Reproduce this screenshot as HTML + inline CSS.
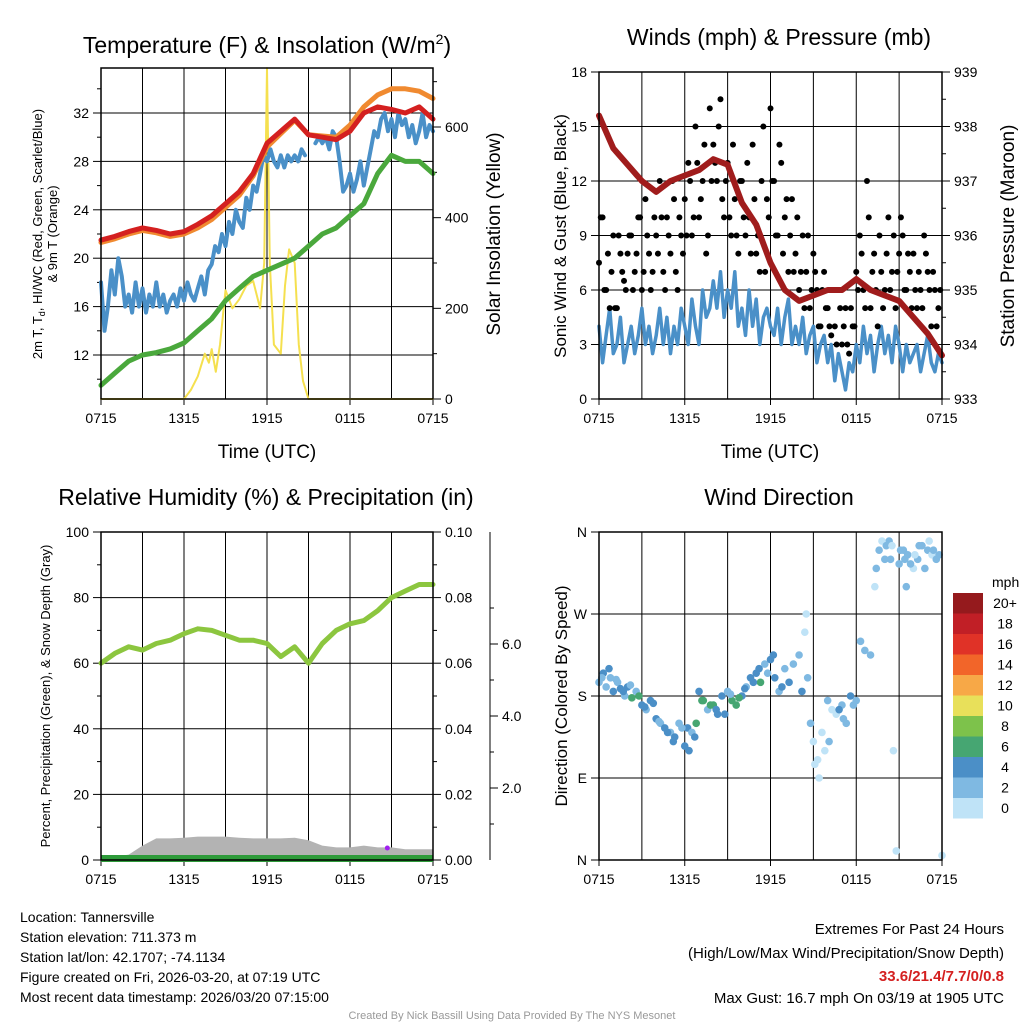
<!DOCTYPE html>
<html><head><meta charset="utf-8">
<style>
html,body{margin:0;padding:0;background:#fff;}
svg{display:block;font-family:"Liberation Sans",sans-serif;}
</style></head>
<body>
<svg id="s" width="1024" height="1024" viewBox="0 0 1024 1024" xmlns="http://www.w3.org/2000/svg">
<rect width="1024" height="1024" fill="#fff"/>
<text x="267" y="53" font-size="23" text-anchor="middle">Temperature (F) &amp; Insolation (W/m<tspan dy="-9" font-size="14">2</tspan><tspan dy="9">)</tspan></text>
<text x="779" y="45" font-size="23" text-anchor="middle">Winds (mph) &amp; Pressure (mb)</text>
<text x="266" y="505" font-size="23" text-anchor="middle">Relative Humidity (%) &amp; Precipitation (in)</text>
<text x="779" y="505" font-size="23" text-anchor="middle">Wind Direction</text>

<text transform="translate(42,234) rotate(-90)" font-size="13" text-anchor="middle">2m T, T<tspan dy="3" font-size="9">d</tspan><tspan dy="-3">, HI/WC (Red, Green, Scarlet/Blue)</tspan></text>
<text transform="translate(57,234) rotate(-90)" font-size="13" text-anchor="middle">&amp; 9m T (Orange)</text>
<text transform="translate(500,234) rotate(-90)" font-size="19" text-anchor="middle">Solar Insolation (Yellow)</text>
<text transform="translate(566,236) rotate(-90)" font-size="17" text-anchor="middle">Sonic Wind &amp; Gust (Blue, Black)</text>
<text transform="translate(1014,236) rotate(-90)" font-size="19" text-anchor="middle">Station Pressure (Maroon)</text>
<text transform="translate(50,696) rotate(-90)" font-size="13" text-anchor="middle">Percent, Precipitation (Green), &amp; Snow Depth (Gray)</text>
<text transform="translate(567,696) rotate(-90)" font-size="17" text-anchor="middle">Direction (Colored By Speed)</text>
<text x="267" y="458" font-size="19" text-anchor="middle">Time (UTC)</text>
<text x="770" y="458" font-size="19" text-anchor="middle">Time (UTC)</text>

<g font-size="14">
<text x="20" y="922">Location: Tannersville</text>
<text x="20" y="942">Station elevation: 711.373 m</text>
<text x="20" y="962">Station lat/lon: 42.1707; -74.1134</text>
<text x="20" y="982">Figure created on Fri, 2026-03-20, at 07:19 UTC</text>
<text x="20" y="1002">Most recent data timestamp: 2026/03/20 07:15:00</text>
</g>
<g font-size="15" text-anchor="end">
<text x="1004" y="934">Extremes For Past 24 Hours</text>
<text x="1004" y="958">(High/Low/Max Wind/Precipitation/Snow Depth)</text>
<text x="1004" y="981" fill="#d42020" font-weight="bold">33.6/21.4/7.7/0/0.8</text>
<text x="1004" y="1003">Max Gust: 16.7 mph On 03/19 at 1905 UTC</text>
</g>
<text x="512" y="1019" font-size="11" fill="#999" text-anchor="middle">Created By Nick Bassill Using Data Provided By The NYS Mesonet</text>
<g id="g"></g>
</svg>
<script>
// ---- data (t = hours since 0715 UTC) ----
const xTickLabels = ["0715","1315","1915","0115","0715"];
const temp2m = [21.5,21.8,22.2,22.5,22.3,22,22.2,22.8,23.5,24.5,25.5,27,29.5,30.5,31.5,30.2,30,29.8,30.5,32,32.5,32.3,32,32.5,31.5]; // hourly
const temp9m = [21.3,21.6,22,22.3,22.1,21.8,22,22.5,23.2,24.2,25.2,26.8,29.2,30.3,31.4,30.2,30.1,30,31,32.5,33.5,34,34,33.8,33.2]; // hourly
const dewpt = [9.5,10.5,11.5,12,12.2,12.5,13,14,15,16.5,17.5,18.5,19,19.5,20,21,22,22.5,23.5,24.5,27,28.5,28,28,27]; // hourly
const heatIdx = [18,14,16,19,17,20,18.5,16, 17,15.5,18,16,17.5,15.5,17,16, 18,16,17,15.5,16.5,17,16,17.5, 16.5,18,17,16.5,17.5,18.5,17,19, 19.5,21,20.5,22,21,23,22,24, 23,22.5,25,24,26,25.5,27,28.5, 28,29,28,27.5,28.5,27.5,28.5,28, 28.5,28,29,28.5,null,null,29.5,30, 29.5,30,29,30.5,30,28,25.5,26, 27,25.5,26.5,28,26,27.5,29,30.5, 30,31.5,32,30.5,31.5,30,32,31, 31.5,30,31,29.5,30.5,32,30,31,30.5]; // 15-min
const insolT = [0,6,6.5,7,7.5,7.8,8,8.3,8.6,9,9.5,10,10.5,11,11.5,11.8,12,12.2,12.5,13,13.3,13.6,14,14.3,14.6,15,24];
const insolV = [0,0,20,50,100,80,110,60,120,240,200,220,250,260,200,300,730,300,120,100,250,330,300,120,40,0,0];
const pressure = [938.2,937.6,937.3,937.0,936.8,937.0,937.1,937.2,937.4,937.3,936.6,936.2,935.5,935.0,934.8,934.9,935.0,935.0,935.2,935.0,934.9,934.8,934.5,934.2,933.8]; // hourly
const sonicWind = [4,2,3.5,5,2.5,3,4.5,2, 3,4,2.5,3.5,5,3,4,2.5, 3.5,5,3,4.5,2.5,4,3,5, 4,3,5.5,4,3,6,4.5,5, 6.5,5,7,4.5,6,5,7,4, 5,3.5,6,4,5.5,3,4.5,5, 4,3.5,5,3,4.5,5.5,3,4, 3,4.5,2.5,3.5,4,2,3,3.5, 2,3,1,2.5,1.5,0.5,2,1.5, 3,2,4,2.5,3.5,1.5,3,4, 2.5,3.5,2,4,3,1.5,3,2, 2.5,3,1.5,2.5,3.5,2,1.5,2.5,2]; // 15-min
const gusts = [7.5,10,6,5,9,5,8,6.5,8,9,7,10,6,11,8,7,9,12,7,10,8,11,6,9,11,13,9,15,10,12,8,16,14,12,16.5,10,13,9,11,8,12,9,10,14,8,7,15,11,16,12,9,13,10,7,11,8,6,9,7,5,8,6,4,7,5,3.5,4,6,3,5,2.5,4,7,9,6,12,5,8,4,7,6,10,7,5,8,9,6,7,8,5,6,9,7,4,6,5]; // 15-min
const gustsB = [10,6,8,7,5,9,7,6, 9,6,8,10,7,9,6,10, 8,10,6,9,12,7,10,8, 9,12,10,13,11,14,9,12, 13,15,11,12,10,14,9,12, 10,13,8,11,9,12,7,10, 12,9,14,8,11,9,7,10, 7,5,9,6,7,4,6,5, 4,6,3,5,4,3,5,4, 6,8,5,10,7,6,9,5, 8,6,9,7,10,6,8,5, 6,7,5,8,6,7,4,6]; // 15-min, offset 7.5 min
const rh = [60,63,65,64,66,67,69,70.5,70,68.5,67,67,66,62,65,60,66,70,72,73,76,80,82,84,84];
const snowDepth = [0.1,0.1,0.15,0.4,0.6,0.6,0.62,0.65,0.65,0.65,0.62,0.6,0.6,0.6,0.62,0.55,0.4,0.35,0.35,0.4,0.35,0.35,0.3,0.3,0.3];
const dirT = [0,0.3,0.5,0.8,1,1.3,1.5,1.8,2,2.3,2.6,3,3.3,3.6,4,4.3,4.6,5,5.3,5.6,6,6.2,6.5,6.8,7,7.3,7.6,8,8.3,8.6,9,9.3,9.6,10,10.3,10.6,11,11.3,11.6,12,12.3,12.6,13,13.3,13.6,14,14.2,14.5,14.8,15,15.3,15.6,16,16.3,16.6,17,17.3,17.6,18,18.3,18.6,19,19.3,19.6,20,20.3,20.6,21,21.3,21.6,22,22.3,22.6,23,23.3,23.6,24,
 0.2,0.7,1.2,1.7,2.2,2.8,3.2,3.8,4.2,4.8,5.2,5.8,6.3,6.7,7.2,7.8,8.2,8.8,9.2,9.8,10.2,10.8,11.2,11.8,12.2,12.8,14.4,14.6,15.1,15.4,15.8,16.1,16.8,17.1,17.8,19.4,19.8,20.1,20.4,20.8,21.1,21.4,21.8,22.1,22.4,22.8,23.1,23.4,23.8,20.5,21.5];
const dirDeg = [195,205,190,200,185,195,188,180,190,178,185,170,165,175,155,150,145,140,135,150,125,145,140,150,185,175,165,170,160,180,185,175,170,180,190,200,205,195,215,220,200,185,210,195,215,225,185,270,150,130,110,140,175,165,160,170,150,180,175,240,230,225,300,340,330,350,120,325,340,335,320,330,345,340,335,330,5,
 200,210,198,185,192,180,168,172,152,140,130,145,120,135,175,170,165,160,182,178,188,195,210,205,225,190,250,200,105,90,120,130,165,155,170,320,350,345,330,10,340,330,325,335,345,320,350,340,335,345,300];
const dirSpd = [3,4,2,3,4,3,5,3,4,6,3,4,3,5,4,3,5,2,4,3,5,4,3,6,4,7,3,6,4,5,3,6,7,4,3,5,4,6,3,5,4,3,2,4,3,2,4,1,2,1,1,1,2,1,1,3,2,4,3,2,3,2,1,2,3,2,1,2,3,2,1,2,3,2,1,2,0,
 3,4,3,4,3,6,4,5,3,4,4,3,5,4,6,7,4,5,3,6,4,5,4,3,5,4,1,2,1,0,1,2,4,3,3,2,1,3,2,1,2,3,2,1,2,3,1,2,2,1,2];
const speedColors = ["#bfe3f7","#7fb9e2","#4b8fc7","#46a672","#7dc24b","#e8e05a","#f7a847","#f26529","#e03227","#c11f26","#951a1d"];
const speedLabels = ["0","2","4","6","8","10","12","14","16","18","20+"];

// ---- helpers ----
const NS="http://www.w3.org/2000/svg";
const G=document.getElementById('g');
function mk(tag,attrs,parent){const e=document.createElementNS(NS,tag);for(const k in attrs)e.setAttribute(k,attrs[k]);(parent||G).appendChild(e);return e;}
function lin(d0,d1,r0,r1){return v=>r0+(v-d0)*(r1-r0)/(d1-d0);}

function panel(name,x0,x1,y0,y1){
  const g=mk('g',{});
  
  
  const sx=lin(0,24,x0,x1);
  for(let h=3;h<24;h+=3){const l=mk('line',{x1:sx(h),x2:sx(h),y1:y0,y2:y1,stroke:'#000','stroke-width':1},g);}
  xTickLabels.forEach((lab,i)=>{
    const t=mk('text',{x:sx(i*6),y:y1+24,'font-size':14,'text-anchor':'middle'},g);t.textContent=lab;
    
    mk('line',{x1:sx(i*6),x2:sx(i*6),y1:y1,y2:y1+6,stroke:'#000'},g);
  });
  return {g,sx};
}
function hgrid(g,x0,x1,y){
  const l=mk('line',{x1:x0,x2:x1,y1:y,y2:y,stroke:'#000','stroke-width':1},g);
  
}
function ytick(g,x,y,lab,side,len){
  mk('line',{x1:x,x2:x+(side<0?-len:len),y1:y,y2:y,stroke:'#000'},g);
  if(lab!==null){const t=mk('text',{x:x+(side<0?-12:12),y:y+5,'font-size':14,'text-anchor':side<0?'end':'start'},g);t.textContent=lab;
  }
}
function box(g,x0,x1,y0,y1){const r=mk('rect',{x:x0,y:y0,width:x1-x0,height:y1-y0,fill:'none',stroke:'#000','stroke-width':1.5},g);}
// vals: data array; fx: index->px x ; fy: value->px y ; nulls create gaps
function line(g,vals,fx,fy,color,w,name){
  let d='';let pen=false;
  vals.forEach((v,i)=>{if(v===null||v===undefined){pen=false;return;}d+=(pen?'L':'M')+fx(i).toFixed(1)+','+fy(v).toFixed(1);pen=true;});
  const p=mk('path',{d,fill:'none',stroke:color,'stroke-width':w,'stroke-linejoin':'round','stroke-linecap':'round'},g);
  return p;
}

// ---- Panel 1: temperature ----
(function(){
  const x0=101,x1=433,y0=68,y1=399;
  const {g,sx}=panel('temperature-panel',x0,x1,y0,y1);
  const sy=lin(12,32,355,113);
  const sr=lin(0,600,399,127);
  [12,16,20,24,28,32].forEach(v=>{hgrid(g,x0,x1,sy(v));ytick(g,x0,sy(v),String(v),-1,8);});
  for(let v=10;v<=34;v+=4)ytick(g,x0,sy(v),null,-1,4);
  [0,200,400,600].forEach(v=>ytick(g,x1,sr(v),String(v),1,8));
  for(let v=100;v<=700;v+=200)ytick(g,x1,sr(v),null,1,4);
  line(g,insolV,i=>sx(insolT[i]),sr,'#f5e04f',2,'insolation-line');
  line(g,dewpt,i=>sx(i),sy,'#4aa83c',5,'dewpoint-line');
  line(g,heatIdx,i=>sx(i/4),sy,'#4a90c8',4,'heat-index-line');
  line(g,temp9m,i=>sx(i),sy,'#f08a30',5,'temp-9m-line');
  line(g,temp2m,i=>sx(i),sy,'#d42020',5,'temp-2m-line');
  box(g,x0,x1,y0,y1);
})();

// ---- Panel 2: winds ----
(function(){
  const x0=599,x1=942,y0=72,y1=399;
  const {g,sx}=panel('wind-panel',x0,x1,y0,y1);
  const sy=lin(0,18,399,72);
  const sp=lin(933,939,399,72);
  [0,3,6,9,12,15,18].forEach(v=>{hgrid(g,x0,x1,sy(v));ytick(g,x0,sy(v),String(v),-1,8);});
  for(let v=933;v<=939;v++)ytick(g,x1,sp(v),String(v),1,8);
  for(let v=933.5;v<939;v++)ytick(g,x1,sp(v),null,1,4);
  line(g,sonicWind,i=>sx(i/4),sy,'#4a90c8',3.5,'sonic-wind-line');
  gusts.forEach((v,i)=>{const c=mk('circle',{cx:sx(i/4),cy:sy(v),r:3,fill:'#000'},g);
    });
  gustsB.forEach((v,i)=>{const c=mk('circle',{cx:sx(i/4+0.125),cy:sy(v),r:3,fill:'#000'},g);
    });
  line(g,pressure,i=>sx(i),sp,'#a01c1c',6,'pressure-line');
  box(g,x0,x1,y0,y1);
})();

// ---- Panel 3: RH ----
(function(){
  const x0=101,x1=433,y0=532,y1=860;
  const {g,sx}=panel('humidity-panel',x0,x1,y0,y1);
  const sy=lin(0,100,860,532);
  const ss=lin(0,2,860,788);
  [0,20,40,60,80,100].forEach(v=>{hgrid(g,x0,x1,sy(v));ytick(g,x0,sy(v),String(v),-1,8);});
  for(let v=10;v<100;v+=20)ytick(g,x0,sy(v),null,-1,4);
  ['0.00','0.02','0.04','0.06','0.08','0.10'].forEach((l,i)=>ytick(g,x1,sy(i*20),l,1,8));
  for(let v=10;v<100;v+=20)ytick(g,x1,sy(v),null,1,4);
  const ax=mk('line',{x1:490,x2:490,y1:532,y2:860,stroke:'#000'},g);
  
  ['2.0','4.0','6.0'].forEach((l,i)=>ytick(g,490,ss((i+1)*2),l,1,8));
  for(let v=1;v<=8;v+=2)ytick(g,490,ss(v),null,1,4);
  let d='M'+sx(0)+','+y1;
  snowDepth.forEach((v,i)=>d+='L'+sx(i).toFixed(1)+','+ss(v).toFixed(1));
  d+='L'+sx(24)+','+y1+'Z';
  const a=mk('path',{d,fill:'#b3b3b3',stroke:'none'},g);
  
  const pr=mk('rect',{x:x0,y:y1-5,width:x1-x0,height:7,fill:'#2e9b3a'},g);
  
  const dot=mk('circle',{cx:sx(20.7),cy:848,r:2.5,fill:'#a020f0'},g);
  
  line(g,rh,i=>sx(i),sy,'#8cc63f',5,'rh-line');
  box(g,x0,x1,y0,y1);
})();

// ---- Panel 4: wind direction ----
(function(){
  const x0=599,x1=942,y0=532,y1=860;
  const {g,sx}=panel('direction-panel',x0,x1,y0,y1);
  const sy=lin(0,360,860,532);
  ['N','E','S','W','N'].forEach((l,i)=>{hgrid(g,x0,x1,sy(i*90));ytick(g,x0,sy(i*90),l,-1,8);});
  dirT.forEach((t,i)=>{
    const ci=Math.min(10,Math.floor(dirSpd[i]/2));
    const c=mk('circle',{cx:sx(t),cy:sy(dirDeg[i]),r:3.8,fill:speedColors[ci]},g);
    
  });
  box(g,x0,x1,y0,y1);
  const cb=mk('g',{});
  
  const t=mk('text',{x:992,y:587,'font-size':14},cb);t.textContent='mph';
  for(let k=10;k>=0;k--){
    const yy=593+(10-k)*20.5;
    const r=mk('rect',{x:953,y:yy,width:30,height:20.5,fill:speedColors[k]},cb);
    
    const l=mk('text',{x:1005,y:yy+15,'font-size':14,'text-anchor':'middle'},cb);l.textContent=speedLabels[k];
    
  }
})();
</script>
</body></html>
